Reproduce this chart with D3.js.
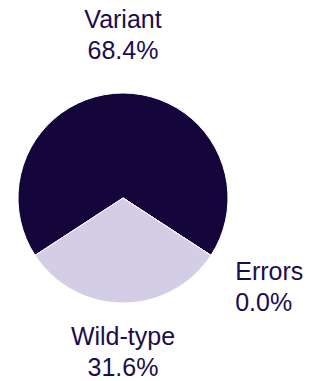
<!DOCTYPE html>
<html>
<head>
<meta charset="utf-8">
<script src="https://cdn.jsdelivr.net/npm/d3@7"></script>
<style>
  html, body { margin: 0; padding: 0; background: #fff; }
  svg { display: block; }
</style>
</head>
<body>
<div id="chart"></div>
<script>
// slice order is clockwise from the Variant slice
const categories = ["Variant", "Errors", "Wild-type"];
const values = [68.4, 0.0, 31.6];
const colors = ["#14063a", "#e0533f", "#d3cde6"];

const width = 325, height = 381;
const cx = 123, cy = 198, radius = 105;
const labelRadius = 134;
const fontSize = 25, lineGap = 31;

const svg = d3.select('#chart').append('svg')
  .attr('width', width)
  .attr('height', height);

// rotate so that the Variant slice is centred on the top
const total = d3.sum(values);
const start = -Math.PI * values[0] / total;

const pie = d3.pie()
  .sort(null)
  .value(d => d)
  .startAngle(start)
  .endAngle(start + 2 * Math.PI);

const arcs = pie(values);
const arc = d3.arc().innerRadius(0).outerRadius(radius);

const g = svg.append('g').attr('transform', `translate(${cx},${cy})`);

g.selectAll('path')
  .data(arcs)
  .join('path')
  .attr('d', arc)
  .attr('fill', (d, i) => colors[i])
  .attr('stroke', '#fff')
  .attr('stroke-width', 1);

// outside labels: two lines, name + percent
const ascent = fontSize * 0.905, descent = fontSize * 0.212;
const blockH = ascent + lineGap + descent;

const labels = svg.append('g')
  .attr('font-family', '"Liberation Sans", Arial, sans-serif')
  .attr('font-size', fontSize)
  .attr('fill', '#1b0d4b');

arcs.forEach((d, i) => {
  const a = (d.startAngle + d.endAngle) / 2;
  const sx = Math.sin(a), cy0 = -Math.cos(a);
  const px = cx + labelRadius * sx;
  const py = cy + labelRadius * cy0;
  let anchor = 'middle';
  if (sx > 0.3) anchor = 'start';
  else if (sx < -0.3) anchor = 'end';
  let top = py - blockH * (1 + Math.cos(a)) / 2;
  top = Math.max(0, Math.min(top, height - blockH));
  const t = labels.append('text')
    .attr('text-anchor', anchor)
    .attr('x', px)
    .attr('y', top + ascent);
  t.append('tspan').attr('x', px).text(categories[i]);
  t.append('tspan').attr('x', px).attr('dy', lineGap)
    .text((values[i] / total * 100).toFixed(1) + '%');
});
</script>
</body>
</html>
